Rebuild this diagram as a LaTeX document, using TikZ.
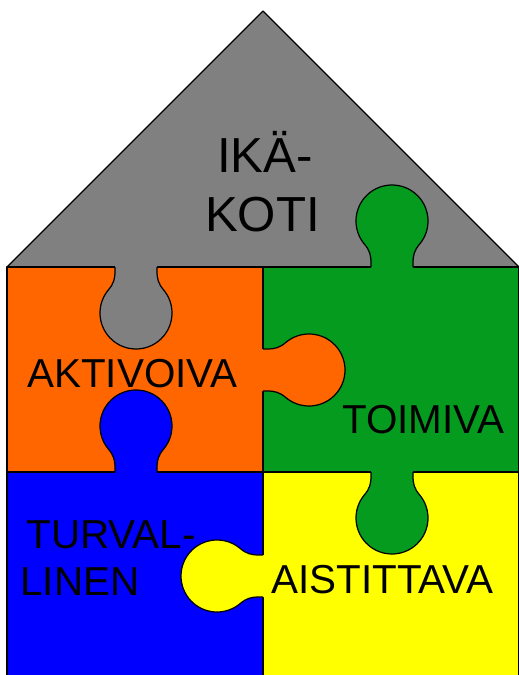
\documentclass[tikz,border=0pt]{standalone}
\usepackage{fontspec}
\setmainfont{Liberation Sans}
\definecolor{roofgray}{RGB}{128,128,128}
\definecolor{puzorange}{RGB}{255,102,0}
\definecolor{puzgreen}{RGB}{5,155,30}
\definecolor{puzblue}{RGB}{0,0,255}
\definecolor{puzyellow}{RGB}{255,255,0}

\begin{document}
\begin{tikzpicture}[x=0.02cm, y=-0.02cm]
  \tikzset{
    edge/.style={draw=black, line width=0.7pt, line join=round},
    lbl/.style={inner sep=0pt, font=\fontsize{23}{27}\selectfont},
    big/.style={inner sep=0pt, font=\fontsize{28}{33}\selectfont},
    knob/.pic={
      \fill[pic actions] (-21,-4) -- (-21,4) .. controls (-21,12) and (-22.4,16.7) .. (-27.58,22.86)
        arc[start angle=220, end angle=-40, radius=36] .. controls (22.4,16.7) and (21,12) .. (21,4) -- (21,-4) -- cycle;
      \draw[edge, fill=none] (-21,0) -- (-21,4) .. controls (-21,12) and (-22.4,16.7) .. (-27.58,22.86)
        arc[start angle=220, end angle=-40, radius=36] .. controls (22.4,16.7) and (21,12) .. (21,4) -- (21,0);
    }
  }
\useasboundingbox (0,0) rectangle (518,675);
% roof and the four squares
\filldraw[edge, fill=roofgray] (7,267) -- (263,11) -- (519,267) -- cycle;
\filldraw[edge, fill=puzorange] (7,267) rectangle (263,472);
\filldraw[edge, fill=puzgreen] (263,267) rectangle (519,472);
\filldraw[edge, fill=puzblue] (7,472) rectangle (263,677);
\filldraw[edge, fill=puzyellow] (263,472) rectangle (519,677);
% knobs
\pic (kroof) [fill=roofgray] at (136,267) {knob};
\pic (kgreenup) [fill=puzgreen, rotate=180] at (392,267) {knob};
\pic (korange) [fill=puzorange, rotate=90] at (263,370) {knob};
\pic (kblue) [fill=puzblue, rotate=180] at (136,472) {knob};
\pic (kgreendown) [fill=puzgreen] at (392,472) {knob};
\pic (kyellow) [fill=puzyellow, rotate=-90] at (263,576) {knob};
% labels
\node[big, anchor=base] (ika) at (265,173) {IKÄ-};
\node[big, anchor=base] (koti) at (262.5,232) {KOTI};
\node[lbl, anchor=base] (akt) at (132.5,387) {AKTIVOIVA};
\node[lbl, anchor=base] (toim) at (423.5,433) {TOIMIVA};
\node[lbl, anchor=base west] (turv) at (26,548) {TURVAL-};
\node[lbl, anchor=base west] (lin) at (20,595) {LINEN};
\node[lbl, anchor=base] (aist) at (382.5,593) {AISTITTAVA};
\end{tikzpicture}
\end{document}
